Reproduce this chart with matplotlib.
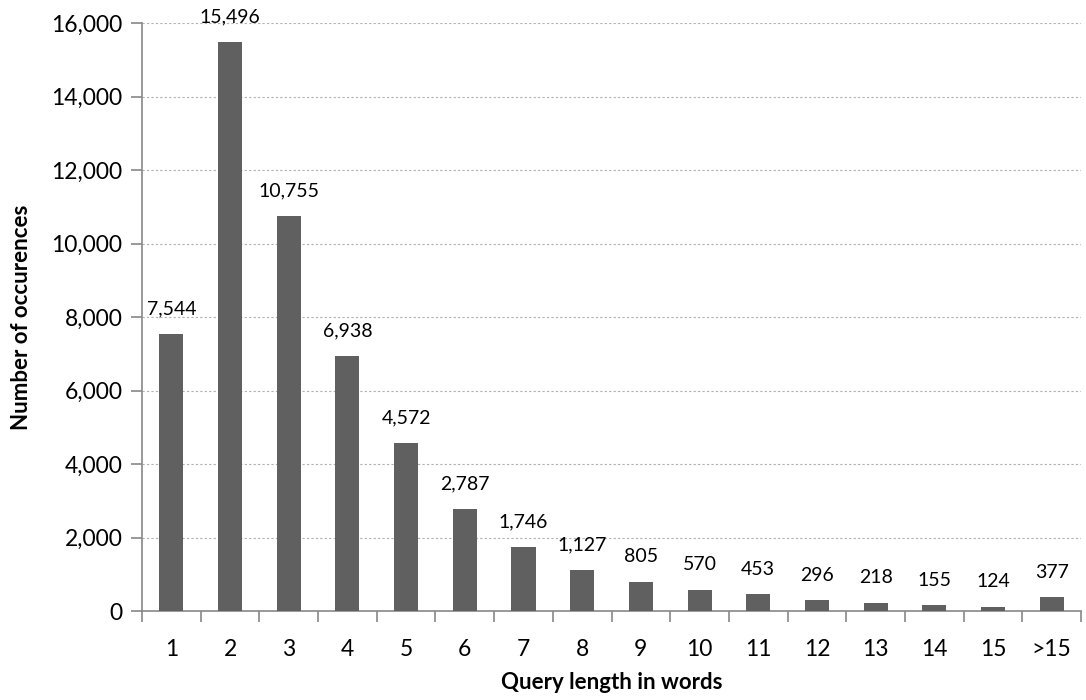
import matplotlib.pyplot as plt
import numpy as np

plt.rcParams['font.family'] = ['Lato', 'DejaVu Sans']

categories = ['1', '2', '3', '4', '5', '6', '7', '8', '9', '10', '11', '12', '13', '14', '15', '>15']
counts = [7544, 15496, 10755, 6938, 4572, 2787, 1746, 1127, 805, 570, 453, 296, 218, 155, 124, 377]

fig = plt.figure(figsize=(10.86, 7), dpi=100)
ax = fig.add_axes([0.1308, 0.127, 0.8646, 0.84])

x = np.arange(len(categories))
bars = ax.bar(x, counts, width=0.41, color='#606060', zorder=3)
ax.bar_label(bars, labels=[f'{v:,}' for v in counts], padding=12, fontsize=14)

ax.set_xlim(-0.5, len(categories) - 0.5)
ax.set_ylim(0, 16000)
ax.set_yticks(np.arange(0, 16001, 2000))
ax.set_yticklabels([f'{v:,}' for v in range(0, 16001, 2000)], fontsize=16.5)
ax.set_xticks(x)
ax.set_xticklabels(categories, fontsize=16.5)
ax.set_xticks(np.arange(-0.5, len(categories), 1), minor=True)
ax.tick_params(axis='x', which='major', length=0, pad=20)
ax.tick_params(axis='x', which='minor', length=8, color='#888888', width=1.2)
ax.tick_params(axis='y', length=8, color='#888888', width=1.2, pad=6)

ax.grid(axis='y', linestyle=(0, (2, 2)), color='#b0b0b0', linewidth=0.8, zorder=0)
for s in ['top', 'right']:
    ax.spines[s].set_visible(False)
for s in ['left', 'bottom']:
    ax.spines[s].set_color('#888888')
    ax.spines[s].set_linewidth(1.2)

ax.set_xlabel('Query length in words', fontsize=16, fontweight='bold', labelpad=9)
ax.set_ylabel('Number of occurences', fontsize=16, fontweight='bold', labelpad=14)

fig.savefig('out.png', dpi=100)
